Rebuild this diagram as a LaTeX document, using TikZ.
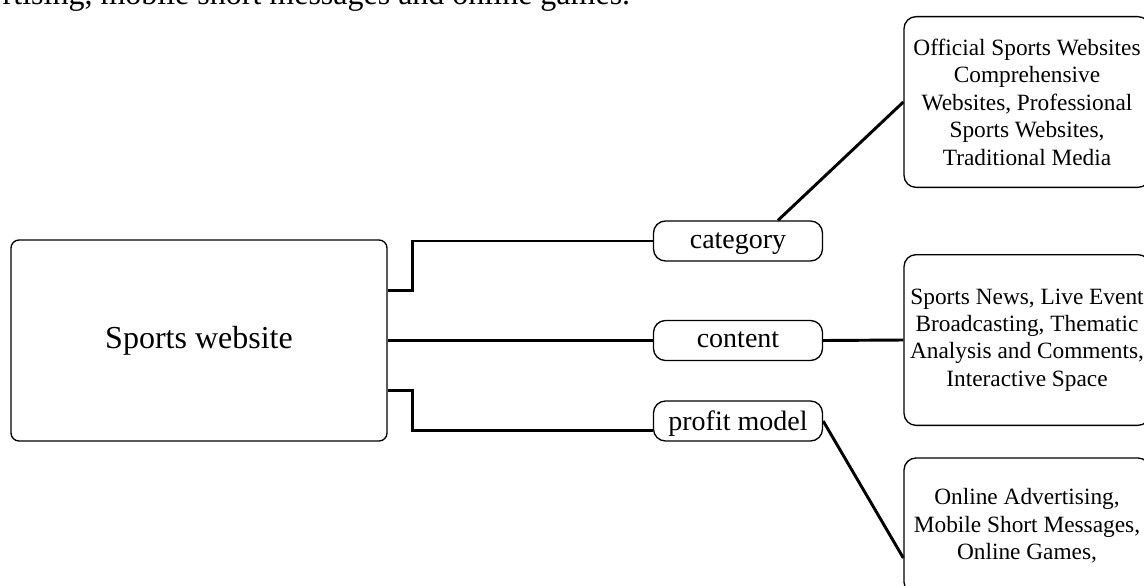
\documentclass[tikz,border=0pt]{standalone}
\usepackage{fontspec}
\setmainfont{Liberation Serif}

\begin{document}
\begin{tikzpicture}[x=0.75pt,y=-0.75pt,
    mainbox/.style={draw,line width=1pt,rounded corners=6pt,minimum width=282pt,minimum height=150.75pt,font=\fontsize{24}{28}\selectfont},
    tagbox/.style={draw,line width=1pt,rounded corners=9pt,minimum width=126.75pt,minimum height=30pt,inner sep=0pt,text depth=1pt,font=\fontsize{21}{24}\selectfont},
    infobox/.style={draw,line width=1pt,rounded corners=9pt,minimum width=184.5pt,minimum height=128pt,align=center,inner sep=0pt,font=\fontsize{17.5}{20.6}\selectfont},
    link/.style={line width=2.2pt}]
    \useasboundingbox (0,0) rectangle (1144,585);
    \draw (-2,5) node[anchor=base west,font=\fontsize{24}{28}\selectfont] (intro) {rtising, mobile short messages and online games.};
    \draw (199,340.5) node[mainbox] (site) {Sports website};
    \draw (738,241) node[tagbox] (cat) {category};
    \draw (738,340.5) node[tagbox] (cont) {content};
    \draw (738,421) node[tagbox] (profit) {profit model};
    \draw (1027,102) node[infobox] (catinfo) {Official Sports Websites\\ Comprehensive\\ Websites, Professional\\ Sports Websites,\\ Traditional Media};
    \draw (1027,340) node[infobox] (continfo) {Sports News, Live Event\\ Broadcasting, Thematic\\ Analysis and Comments,\\ Interactive Space};
    \draw (1027,526) node[infobox,minimum height=102pt] (profitinfo) {Online Advertising,\\ Mobile Short Messages,\\ Online Games,};
    \draw[link] (site.east) ++(0,-50) -- ++(25,0) |- (cat.west);
    \draw[link] (site.east) -- (cont.west);
    \draw[link] (site.east) ++(0,50) -- ++(25,0) |- ([yshift=-7pt]profit.west);
    \draw[link] ([xshift=30pt]cat.north) -- (catinfo.west);
    \draw[link] (cont.east) -- (continfo.west);
    \draw[link] (profit.east) -- ([yshift=-24pt]profitinfo.west);%
\end{tikzpicture}
\end{document}
